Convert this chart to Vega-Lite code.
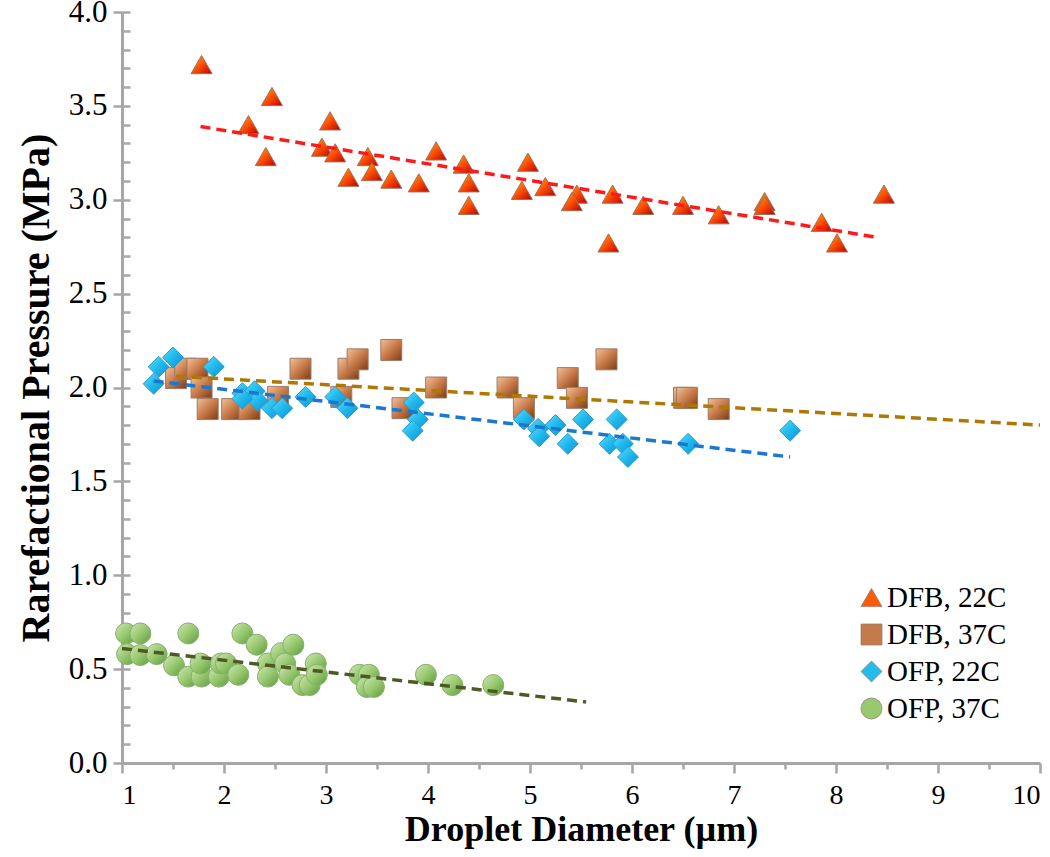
{
  "$schema": "https://vega.github.io/schema/vega-lite/v6.json",
  "width": 918,
  "height": 751,
  "autosize": {"type": "none"},
  "padding": {"left": 122, "top": 12, "right": 10, "bottom": 94},
  "background": "white",
  "config": {"view": {"stroke": null}, "font": "Liberation Serif"},
  "datasets": {
    "points": [
      {"series": "DFB, 22C", "d": 1.78, "p": 3.72}, {"series": "DFB, 22C", "d": 2.47, "p": 3.55}, {"series": "DFB, 22C", "d": 2.24, "p": 3.40}, {"series": "DFB, 22C", "d": 2.41, "p": 3.23}, {"series": "DFB, 22C", "d": 3.04, "p": 3.42}, {"series": "DFB, 22C", "d": 2.96, "p": 3.28}, {"series": "DFB, 22C", "d": 3.09, "p": 3.25}, {"series": "DFB, 22C", "d": 3.22, "p": 3.12}, {"series": "DFB, 22C", "d": 3.41, "p": 3.23}, {"series": "DFB, 22C", "d": 3.45, "p": 3.15}, {"series": "DFB, 22C", "d": 3.64, "p": 3.11}, {"series": "DFB, 22C", "d": 3.91, "p": 3.09}, {"series": "DFB, 22C", "d": 4.08, "p": 3.26}, {"series": "DFB, 22C", "d": 4.35, "p": 3.19}, {"series": "DFB, 22C", "d": 4.40, "p": 3.09}, {"series": "DFB, 22C", "d": 4.40, "p": 2.97}, {"series": "DFB, 22C", "d": 4.98, "p": 3.20}, {"series": "DFB, 22C", "d": 4.92, "p": 3.05}, {"series": "DFB, 22C", "d": 5.15, "p": 3.07}, {"series": "DFB, 22C", "d": 5.46, "p": 3.03}, {"series": "DFB, 22C", "d": 5.41, "p": 2.99}, {"series": "DFB, 22C", "d": 5.81, "p": 3.03}, {"series": "DFB, 22C", "d": 5.77, "p": 2.77}, {"series": "DFB, 22C", "d": 6.11, "p": 2.97}, {"series": "DFB, 22C", "d": 6.50, "p": 2.97}, {"series": "DFB, 22C", "d": 6.85, "p": 2.92}, {"series": "DFB, 22C", "d": 7.30, "p": 2.99}, {"series": "DFB, 22C", "d": 7.30, "p": 2.97}, {"series": "DFB, 22C", "d": 7.86, "p": 2.88}, {"series": "DFB, 22C", "d": 8.01, "p": 2.77}, {"series": "DFB, 22C", "d": 8.47, "p": 3.03},
      {"series": "DFB, 37C", "d": 1.53, "p": 2.05}, {"series": "DFB, 37C", "d": 1.62, "p": 2.10}, {"series": "DFB, 37C", "d": 1.74, "p": 2.10}, {"series": "DFB, 37C", "d": 1.78, "p": 2.00}, {"series": "DFB, 37C", "d": 1.84, "p": 1.885}, {"series": "DFB, 37C", "d": 2.08, "p": 1.885}, {"series": "DFB, 37C", "d": 2.25, "p": 1.885}, {"series": "DFB, 37C", "d": 2.53, "p": 1.95}, {"series": "DFB, 37C", "d": 2.75, "p": 2.10}, {"series": "DFB, 37C", "d": 3.22, "p": 2.10}, {"series": "DFB, 37C", "d": 3.31, "p": 2.15}, {"series": "DFB, 37C", "d": 3.15, "p": 1.95}, {"series": "DFB, 37C", "d": 3.64, "p": 2.20}, {"series": "DFB, 37C", "d": 3.75, "p": 1.89}, {"series": "DFB, 37C", "d": 4.08, "p": 2.00}, {"series": "DFB, 37C", "d": 4.78, "p": 2.00}, {"series": "DFB, 37C", "d": 4.94, "p": 1.89}, {"series": "DFB, 37C", "d": 5.37, "p": 2.05}, {"series": "DFB, 37C", "d": 5.46, "p": 1.945}, {"series": "DFB, 37C", "d": 5.75, "p": 2.15}, {"series": "DFB, 37C", "d": 6.51, "p": 1.945}, {"series": "DFB, 37C", "d": 6.54, "p": 1.945}, {"series": "DFB, 37C", "d": 6.85, "p": 1.885},
      {"series": "OFP, 22C", "d": 1.31, "p": 2.02}, {"series": "OFP, 22C", "d": 1.36, "p": 2.11}, {"series": "OFP, 22C", "d": 1.50, "p": 2.16}, {"series": "OFP, 22C", "d": 1.90, "p": 2.11}, {"series": "OFP, 22C", "d": 2.18, "p": 1.97}, {"series": "OFP, 22C", "d": 2.30, "p": 1.98}, {"series": "OFP, 22C", "d": 2.33, "p": 1.93}, {"series": "OFP, 22C", "d": 2.18, "p": 1.94}, {"series": "OFP, 22C", "d": 2.47, "p": 1.89}, {"series": "OFP, 22C", "d": 2.57, "p": 1.89}, {"series": "OFP, 22C", "d": 2.80, "p": 1.95}, {"series": "OFP, 22C", "d": 3.09, "p": 1.95}, {"series": "OFP, 22C", "d": 3.21, "p": 1.89}, {"series": "OFP, 22C", "d": 3.86, "p": 1.92}, {"series": "OFP, 22C", "d": 3.90, "p": 1.83}, {"series": "OFP, 22C", "d": 3.85, "p": 1.77}, {"series": "OFP, 22C", "d": 4.94, "p": 1.83}, {"series": "OFP, 22C", "d": 5.08, "p": 1.78}, {"series": "OFP, 22C", "d": 5.09, "p": 1.74}, {"series": "OFP, 22C", "d": 5.25, "p": 1.80}, {"series": "OFP, 22C", "d": 5.37, "p": 1.70}, {"series": "OFP, 22C", "d": 5.52, "p": 1.83}, {"series": "OFP, 22C", "d": 5.78, "p": 1.70}, {"series": "OFP, 22C", "d": 5.85, "p": 1.83}, {"series": "OFP, 22C", "d": 5.91, "p": 1.70}, {"series": "OFP, 22C", "d": 5.96, "p": 1.63}, {"series": "OFP, 22C", "d": 6.55, "p": 1.70}, {"series": "OFP, 22C", "d": 7.55, "p": 1.77},
      {"series": "OFP, 37C", "d": 1.04, "p": 0.69}, {"series": "OFP, 37C", "d": 1.18, "p": 0.69}, {"series": "OFP, 37C", "d": 1.05, "p": 0.58}, {"series": "OFP, 37C", "d": 1.18, "p": 0.575}, {"series": "OFP, 37C", "d": 1.34, "p": 0.58}, {"series": "OFP, 37C", "d": 1.51, "p": 0.52}, {"series": "OFP, 37C", "d": 1.65, "p": 0.69}, {"series": "OFP, 37C", "d": 1.65, "p": 0.46}, {"series": "OFP, 37C", "d": 1.78, "p": 0.46}, {"series": "OFP, 37C", "d": 1.77, "p": 0.53}, {"series": "OFP, 37C", "d": 1.95, "p": 0.46}, {"series": "OFP, 37C", "d": 1.97, "p": 0.53}, {"series": "OFP, 37C", "d": 2.02, "p": 0.53}, {"series": "OFP, 37C", "d": 2.14, "p": 0.47}, {"series": "OFP, 37C", "d": 2.18, "p": 0.69}, {"series": "OFP, 37C", "d": 2.32, "p": 0.63}, {"series": "OFP, 37C", "d": 2.43, "p": 0.53}, {"series": "OFP, 37C", "d": 2.43, "p": 0.46}, {"series": "OFP, 37C", "d": 2.56, "p": 0.585}, {"series": "OFP, 37C", "d": 2.60, "p": 0.53}, {"series": "OFP, 37C", "d": 2.68, "p": 0.63}, {"series": "OFP, 37C", "d": 2.64, "p": 0.47}, {"series": "OFP, 37C", "d": 2.77, "p": 0.415}, {"series": "OFP, 37C", "d": 2.84, "p": 0.415}, {"series": "OFP, 37C", "d": 2.90, "p": 0.53}, {"series": "OFP, 37C", "d": 2.91, "p": 0.47}, {"series": "OFP, 37C", "d": 3.33, "p": 0.47}, {"series": "OFP, 37C", "d": 3.42, "p": 0.47}, {"series": "OFP, 37C", "d": 3.40, "p": 0.405}, {"series": "OFP, 37C", "d": 3.47, "p": 0.405}, {"series": "OFP, 37C", "d": 3.98, "p": 0.47}, {"series": "OFP, 37C", "d": 4.24, "p": 0.415}, {"series": "OFP, 37C", "d": 4.64, "p": 0.415}
    ],
    "trend": [
      {"series": "DFB, 22C", "d": 1.77, "p": 3.39}, {"series": "DFB, 22C", "d": 8.40, "p": 2.80},
      {"series": "DFB, 37C", "d": 1.53, "p": 2.06}, {"series": "DFB, 37C", "d": 10.0, "p": 1.80},
      {"series": "OFP, 22C", "d": 1.31, "p": 2.035}, {"series": "OFP, 22C", "d": 7.55, "p": 1.63},
      {"series": "OFP, 37C", "d": 1.0, "p": 0.61}, {"series": "OFP, 37C", "d": 5.55, "p": 0.325}
    ]
  },
  "encoding": {
    "x": {
      "field": "d", "type": "quantitative",
      "scale": {"domain": [1, 10], "nice": false, "zero": false},
      "axis": {
        "values": [1, 1.5, 2, 2.5, 3, 3.5, 4, 4.5, 5, 5.5, 6, 6.5, 7, 7.5, 8, 8.5, 9, 9.5, 10],
        "labelExpr": "datum.value % 1 === 0 ? format(datum.value, 'd') : ''",
        "grid": false,
        "domainColor": "#a6a6a6", "domainWidth": 3,
        "tickColor": "#a6a6a6", "tickWidth": 2.5,
        "tickSize": {"condition": {"test": "datum.value % 1 === 0", "value": 10}, "value": 6},
        "labelFont": "Liberation Serif", "labelFontSize": 28, "labelColor": "#000000", "labelPadding": 8,
        "labelOverlap": false,
        "title": "Droplet Diameter (µm)", "titleFont": "Liberation Serif", "titleFontSize": 36, "titleFontWeight": "bold", "titleColor": "#000000", "titlePadding": 3
      }
    }
  },
  "layer": [
    {
      "data": {"name": "points"},
      "mark": {"type": "point", "filled": true, "size": 440, "opacity": 1, "strokeWidth": 1},
      "encoding": {
        "y": {
          "field": "p", "type": "quantitative",
          "scale": {"domain": [0, 4], "nice": false},
          "axis": {
            "orient": "left",
            "values": [0, 0.5, 1, 1.5, 2, 2.5, 3, 3.5, 4],
            "format": ".1f",
            "grid": false,
            "domainColor": "#a6a6a6", "domainWidth": 3,
            "tickColor": "#a6a6a6", "tickWidth": 2.5, "tickSize": 9,
            "labelFont": "Liberation Serif", "labelFontSize": 31, "labelColor": "#000000", "labelPadding": 6,
            "title": "Rarefactional Pressure (MPa)", "titleFont": "Liberation Serif", "titleFontSize": 40, "titleFontWeight": "bold", "titleColor": "#000000", "titlePadding": 12
          }
        },
        "shape": {
          "field": "series", "type": "nominal",
          "scale": {"domain": ["DFB, 22C", "DFB, 37C", "OFP, 22C", "OFP, 37C"], "range": ["triangle-up", "square", "diamond", "circle"]},
          "legend": null
        },
        "fill": {
          "condition": [
            {"test": "datum.series === 'DFB, 22C'", "value": {"gradient": "linear", "x1": 0, "y1": 0, "x2": 1, "y2": 1, "stops": [{"offset": 0, "color": "#ffb300"}, {"offset": 0.5, "color": "#ff4f00"}, {"offset": 1, "color": "#b80000"}]}},
            {"test": "datum.series === 'DFB, 37C'", "value": {"gradient": "linear", "x1": 0, "y1": 0, "x2": 1, "y2": 1, "stops": [{"offset": 0, "color": "#f2c09a"}, {"offset": 0.5, "color": "#c87a48"}, {"offset": 1, "color": "#7a3c14"}]}},
            {"test": "datum.series === 'OFP, 22C'", "value": {"gradient": "linear", "x1": 0, "y1": 0, "x2": 1, "y2": 1, "stops": [{"offset": 0, "color": "#5ee0ff"}, {"offset": 0.5, "color": "#20b8ec"}, {"offset": 1, "color": "#0f8fd0"}]}}
          ],
          "value": {"gradient": "linear", "x1": 0, "y1": 0, "x2": 1, "y2": 1, "stops": [{"offset": 0, "color": "#cfe8b0"}, {"offset": 0.5, "color": "#98c870"}, {"offset": 1, "color": "#5c9a3c"}]}
        },
        "stroke": {
          "condition": [
            {"test": "datum.series === 'DFB, 22C'", "value": "#9a7060"},
            {"test": "datum.series === 'DFB, 37C'", "value": "#9c7a68"},
            {"test": "datum.series === 'OFP, 22C'", "value": "#2a9ed0"}
          ],
          "value": "#86b070"
        }
      }
    },
    {
      "data": {"name": "trend"},
      "mark": {"type": "line", "strokeDash": [10, 6], "strokeWidth": 3.5, "strokeCap": "butt"},
      "encoding": {
        "y": {
          "field": "p", "type": "quantitative",
          "scale": {"domain": [0, 4], "nice": false},
          "axis": {
            "orient": "left",
            "values": [0, 0.1, 0.2, 0.3, 0.4, 0.5, 0.6, 0.7, 0.8, 0.9, 1, 1.1, 1.2, 1.3, 1.4, 1.5, 1.6, 1.7, 1.8, 1.9, 2, 2.1, 2.2, 2.3, 2.4, 2.5, 2.6, 2.7, 2.8, 2.9, 3, 3.1, 3.2, 3.3, 3.4, 3.5, 3.6, 3.7, 3.8, 3.9, 4],
            "labels": false, "domain": false, "grid": false, "title": null,
            "tickColor": "#a6a6a6", "tickWidth": 2.5, "tickSize": -8
          }
        },
        "stroke": {
          "field": "series", "type": "nominal",
          "scale": {"domain": ["DFB, 22C", "DFB, 37C", "OFP, 22C", "OFP, 37C"], "range": ["#ff1a1a", "#b07800", "#1a78d0", "#4d5a24"]},
          "legend": null
        },
        "order": {"field": "d", "type": "quantitative"}
      }
    },
    {
      "data": {"name": "points"},
      "mark": {"type": "point", "filled": true, "size": 440, "opacity": 0, "strokeWidth": 1, "stroke": "#9a8070"},
      "encoding": {
        "y": {"field": "p", "type": "quantitative", "scale": {"domain": [0, 4], "nice": false}, "axis": null},
        "shape": {
          "field": "series", "type": "nominal",
          "scale": {"domain": ["DFB, 22C", "DFB, 37C", "OFP, 22C", "OFP, 37C"], "range": ["triangle-up", "square", "diamond", "circle"]},
          "legend": {
            "orient": "none", "legendX": 735, "legendY": 571, "title": null,
            "symbolSize": 440, "symbolStrokeWidth": 0.8, "symbolOpacity": 1,
            "labelFont": "Liberation Serif", "labelFontSize": 29, "labelColor": "#000000", "labelOffset": 1,
            "rowPadding": 7, "padding": 0
          }
        },
        "color": {
          "field": "series", "type": "nominal",
          "scale": {"domain": ["DFB, 22C", "DFB, 37C", "OFP, 22C", "OFP, 37C"], "range": ["#fb5a06", "#c47a4c", "#24bcec", "#98c870"]},
          "legend": {
            "orient": "none", "legendX": 735, "legendY": 571, "title": null,
            "symbolSize": 440, "symbolStrokeWidth": 0.8, "symbolOpacity": 1,
            "labelFont": "Liberation Serif", "labelFontSize": 29, "labelColor": "#000000", "labelOffset": 1,
            "rowPadding": 7, "padding": 0
          }
        }
      }
    }
  ],
  "resolve": {
    "axis": {"y": "independent"},
    "scale": {"stroke": "independent", "shape": "independent", "color": "independent"},
    "legend": {"shape": "independent", "color": "independent"}
  }
}
